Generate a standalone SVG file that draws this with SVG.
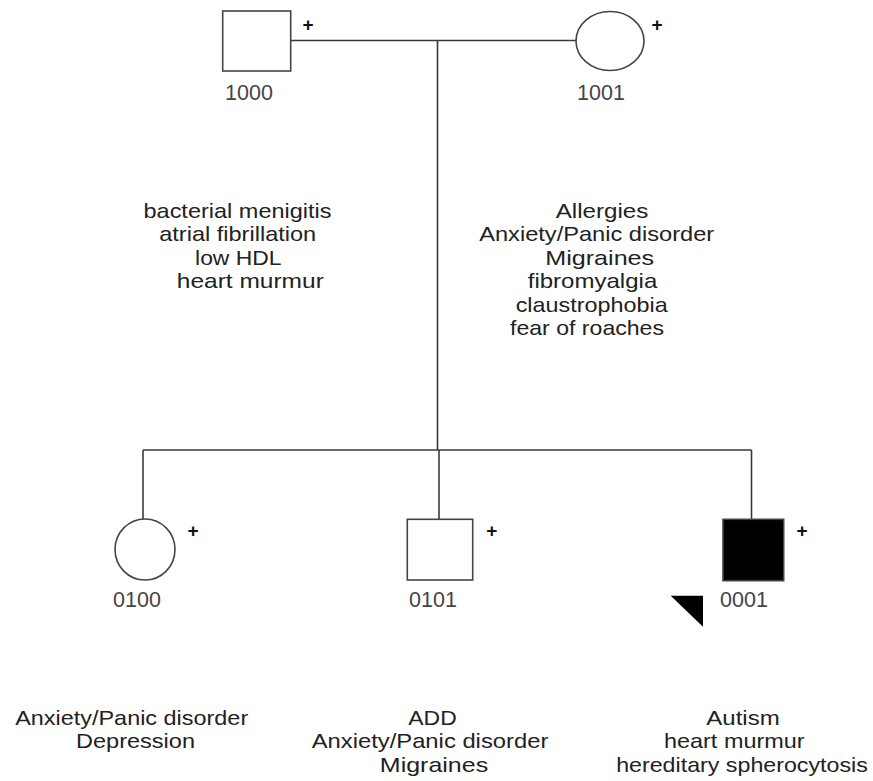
<svg xmlns="http://www.w3.org/2000/svg" width="873" height="781" viewBox="0 0 873 781">
<style>
.bg{fill:#ffffff}
.line{fill:none;stroke:#3a3a3a;stroke-width:1.6}
.sym{fill:#ffffff;stroke:#444444;stroke-width:1.6}
.aff{fill:#000000;stroke:#444444;stroke-width:1.6}
.t{font-family:"Liberation Sans",Arial,sans-serif;font-size:21px;fill:#222222;text-anchor:middle}
.id{font-family:"Liberation Sans",Arial,sans-serif;font-size:21.5px;fill:#444444;text-anchor:middle}
.plus{font-family:"Liberation Sans",Arial,sans-serif;font-size:19px;font-weight:bold;fill:#111111;text-anchor:middle}
</style>
<rect class="bg" x="0" y="0" width="873" height="781"/>
<g id="connectors">
<path class="line" d="M290.7 40.5 H576"/>
<path class="line" d="M437.5 40.5 V450"/>
<path class="line" d="M143 450 H751.5"/>
<path class="line" d="M143 450 V519"/>
<path class="line" d="M439 450 V519"/>
<path class="line" d="M751.5 450 V519"/>
</g>
<g id="node-1000">
<rect class="sym" x="222.7" y="11" width="68" height="60"/>
<text class="plus" x="308" y="31">+</text>
<text class="id" x="249" y="99.5">1000</text>
<text class="t" x="237.5" y="217.5" textLength="188" lengthAdjust="spacingAndGlyphs">bacterial menigitis</text>
<text class="t" x="237.7" y="241" textLength="157" lengthAdjust="spacingAndGlyphs">atrial fibrillation</text>
<text class="t" x="238.3" y="264.5" textLength="86.5" lengthAdjust="spacingAndGlyphs">low HDL</text>
<text class="t" x="250.3" y="288" textLength="147" lengthAdjust="spacingAndGlyphs">heart murmur</text>
</g>
<g id="node-1001">
<ellipse class="sym" cx="610" cy="41" rx="34" ry="29.5"/>
<text class="plus" x="657" y="31">+</text>
<text class="id" x="601" y="99.5">1001</text>
<text class="t" x="602" y="217.5" textLength="92.5" lengthAdjust="spacingAndGlyphs">Allergies</text>
<text class="t" x="596.7" y="241" textLength="235" lengthAdjust="spacingAndGlyphs">Anxiety/Panic disorder</text>
<text class="t" x="599.7" y="264.5" textLength="109" lengthAdjust="spacingAndGlyphs">Migraines</text>
<text class="t" x="592.5" y="288" textLength="129.5" lengthAdjust="spacingAndGlyphs">fibromyalgia</text>
<text class="t" x="591.7" y="311.5" textLength="152" lengthAdjust="spacingAndGlyphs">claustrophobia</text>
<text class="t" x="587" y="335" textLength="154" lengthAdjust="spacingAndGlyphs">fear of roaches</text>
</g>
<g id="node-0100">
<ellipse class="sym" cx="145" cy="549.5" rx="30" ry="30.5"/>
<text class="plus" x="193" y="537">+</text>
<text class="id" x="137" y="606.5">0100</text>
<text class="t" x="131.7" y="725" textLength="233" lengthAdjust="spacingAndGlyphs">Anxiety/Panic disorder</text>
<text class="t" x="135.5" y="748" textLength="119" lengthAdjust="spacingAndGlyphs">Depression</text>
</g>
<g id="node-0101">
<rect class="sym" x="407.3" y="519.3" width="65.4" height="60.7"/>
<text class="plus" x="491.7" y="537">+</text>
<text class="id" x="433" y="606.5">0101</text>
<text class="t" x="432.5" y="724.5" textLength="48.4" lengthAdjust="spacingAndGlyphs">ADD</text>
<text class="t" x="430" y="748" textLength="236.7" lengthAdjust="spacingAndGlyphs">Anxiety/Panic disorder</text>
<text class="t" x="434" y="771.5" textLength="108.3" lengthAdjust="spacingAndGlyphs">Migraines</text>
</g>
<g id="node-0001">
<rect class="aff" x="723" y="519.3" width="60.7" height="61.4"/>
<text class="plus" x="802" y="537">+</text>
<text class="id" x="744" y="606.5">0001</text>
<polygon points="670.7,595.7 703,595.7 703,626.7" fill="#000000"/>
<text class="t" x="743" y="724.5" textLength="73.4" lengthAdjust="spacingAndGlyphs">Autism</text>
<text class="t" x="734.3" y="748" textLength="140.7" lengthAdjust="spacingAndGlyphs">heart murmur</text>
<text class="t" x="742" y="771.5" textLength="251.7" lengthAdjust="spacingAndGlyphs">hereditary spherocytosis</text>
</g>
</svg>
